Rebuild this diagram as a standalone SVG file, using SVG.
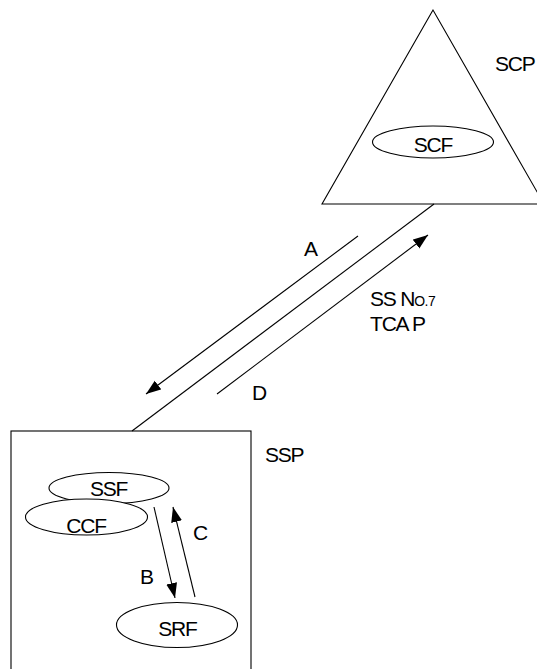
<svg xmlns="http://www.w3.org/2000/svg" width="537" height="669" viewBox="0 0 537 669">
<style>
.s{fill:none;stroke:#000;stroke-width:1.1}
.e{fill:#fff;stroke:#000;stroke-width:1.1}
.t{font-family:"Liberation Sans",Arial,sans-serif;font-size:21px;letter-spacing:-1.2px;fill:#000}
.m{text-anchor:middle}
</style>
<defs>
<marker id="ah" markerUnits="userSpaceOnUse" markerWidth="16" markerHeight="12" refX="15" refY="5.5" orient="auto">
<path d="M0,0 L15,5.5 L0,11 z" fill="#000"/>
</marker>
</defs>
<rect width="537" height="669" fill="#fff"/>
<g id="SCP">
<polygon class="s" points="433,10 322,204 544,204"/>
<text class="t" x="495" y="71">SCP</text>
</g>
<g id="SCF">
<ellipse class="e" cx="433" cy="142" rx="60.5" ry="16"/>
<text class="t m" x="433" y="152">SCF</text>
</g>
<g id="SSP">
<rect class="s" x="11" y="431" width="240" height="260"/>
<text class="t" x="265" y="462">SSP</text>
</g>
<g id="SSF">
<ellipse class="e" cx="109" cy="488" rx="60" ry="15.5"/>
<text class="t m" x="108.5" y="496">SSF</text>
</g>
<g id="CCF">
<ellipse class="e" cx="86.5" cy="517" rx="61" ry="18"/>
<text class="t m" x="86" y="533">CCF</text>
</g>
<g id="SRF">
<ellipse class="e" cx="177" cy="625" rx="60.5" ry="22.5"/>
<text class="t m" x="177.5" y="636">SRF</text>
</g>
<g id="connectors">
<line class="s" x1="132" y1="431" x2="434" y2="204"/>
<line class="s" x1="358" y1="236" x2="146" y2="394" marker-end="url(#ah)"/>
<line class="s" x1="217" y1="394" x2="428" y2="235" marker-end="url(#ah)"/>
<line class="s" x1="154" y1="507" x2="175" y2="598" marker-end="url(#ah)"/>
<line class="s" x1="195" y1="597" x2="173" y2="507" marker-end="url(#ah)"/>
</g>
<g id="labels">
<text class="t" x="304" y="256">A</text>
<text class="t" x="252" y="400">D</text>
<text class="t" x="140" y="584">B</text>
<text class="t" x="193" y="540">C</text>
<text class="t" x="370" y="306">SS N<tspan font-size="14" letter-spacing="-0.5">O.7</tspan></text>
<text class="t" x="370" y="331">TCA P</text>
</g>
</svg>
